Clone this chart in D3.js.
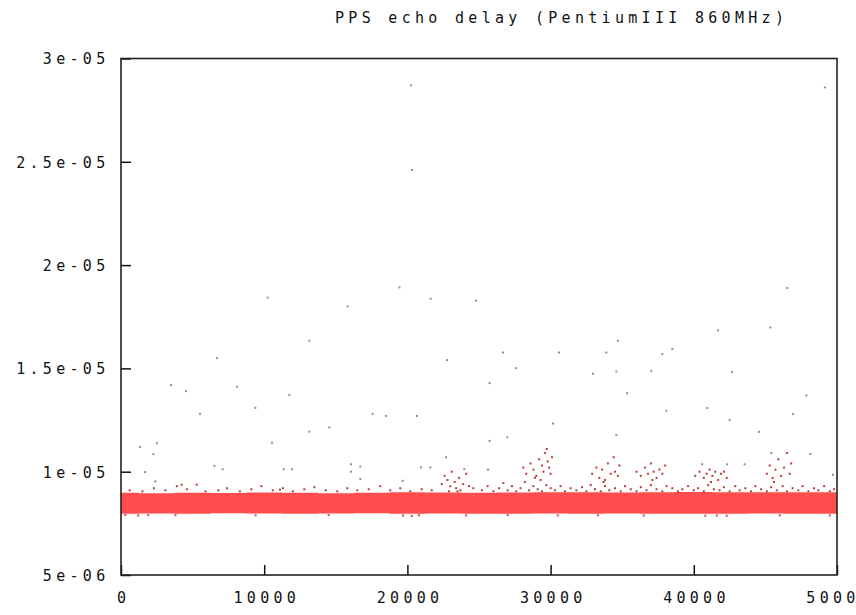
<!DOCTYPE html>
<html>
<head>
<meta charset="utf-8">
<script src="https://cdn.jsdelivr.net/npm/d3@7"></script>
<style>
  html, body { margin: 0; padding: 0; background: #fff; }
  svg { display: block; }
  text { font-family: "DejaVu Sans Mono", "Liberation Mono", monospace; font-size: 15px; letter-spacing: 4.3px; fill: #111; }
</style>
</head>
<body>
<svg id="chart" width="856" height="615"></svg>
<script>
// Echo delay, one sample per packet index; delays in microseconds.
const titleText = "PPS echo delay (PentiumIII 860MHz)";

const xTicks = [0, 10000, 20000, 30000, 40000, 50000];
const xTickLabels = ["0", "10000", "20000", "30000", "40000", "50000"];
const yTicks = [5e-6, 1e-5, 1.5e-5, 2e-5, 2.5e-5, 3e-5];
const yTickLabels = ["5e-06", "1e-05", "1.5e-05", "2e-05", "2.5e-05", "3e-05"];

// Envelope of the dense bulk of samples (µs), one entry per 2500 packets.
const bandX    = [0, 2500, 5000, 7500, 10000, 12500, 15000, 17500, 20000, 22500, 25000,
                  27500, 30000, 32500, 35000, 37500, 40000, 42500, 45000, 47500, 50000];
const bandLow  = [7.97, 7.98, 7.97, 7.99, 7.98, 7.97, 7.98, 7.99, 7.96, 7.98, 7.97,
                  7.97, 7.98, 7.97, 7.98, 7.96, 7.97, 7.97, 7.98, 7.97, 7.97];
const bandHigh = [8.98, 8.96, 8.98, 8.97, 8.99, 8.98, 8.96, 8.98, 9.00, 8.99, 8.98,
                  8.99, 9.01, 9.00, 8.99, 9.00, 9.02, 9.01, 9.00, 9.01, 9.01];

// Samples just outside the bulk and the small bursts around 10 µs: [packet, µs]
const nearSamples = [
  [600,9.10],[1500,9.05],[2300,9.20],[3100,9.10],[3900,9.30],[4240,9.37],[4600,9.15],[5290,9.37],
  [5900,9.05],[6800,9.10],[7400,9.20],[8300,9.05],[9100,9.15],[9800,9.30],[10600,9.10],[11100,9.13],
  [11300,9.20],[12000,9.05],[12800,9.15],[13500,9.25],[14300,9.10],[15100,9.05],[15800,9.20],
  [16500,9.10],[17300,9.15],[18100,9.30],[18800,9.10],[19500,9.20],[20200,9.05],[21000,9.15],[21700,9.10],
  [22400,9.40],[22600,9.80],[22800,9.60],[22900,9.05],[23000,9.30],[23100,10.0],[23300,9.50],[23400,9.20],
  [23500,9.05],[23600,9.70],[23700,9.10],[23900,9.40],[24100,9.90],[24300,9.30],[24600,9.20],
  [25200,9.10],[25600,9.30],[26000,9.05],[26400,9.20],[26700,9.45],[27000,9.10],[27300,9.30],[27600,9.05],
  [27900,9.20],[28200,9.50],[28500,9.10],[28800,9.30],[29100,9.15],[29400,9.05],[29700,9.35],[30000,9.20],
  [30300,9.10],[30700,9.30],[31000,9.05],[31400,9.20],[31800,9.10],[32200,9.25],[32500,9.05],[32800,9.35],
  [33100,9.15],[33500,9.05],[33800,9.30],[34100,9.10],[34500,9.20],[34900,9.05],[35200,9.30],[35600,9.15],
  [36000,9.05],[36300,9.25],[36700,9.10],[37000,9.35],[37400,9.15],[37800,9.05],[38100,9.30],[38500,9.20],
  [38900,9.05],[39200,9.15],[39600,9.30],[40000,9.10],[40300,9.20],[40700,9.05],[41000,9.35],[41400,9.15],
  [41800,9.10],[42100,9.25],[42500,9.05],[42900,9.30],[43200,9.10],[43600,9.20],[44000,9.05],[44300,9.30],
  [44700,9.15],[45100,9.05],[45400,9.25],[45800,9.10],[46200,9.30],[46500,9.05],[46900,9.20],[47300,9.10],
  [47600,9.30],[48000,9.05],[48400,9.20],[48700,9.10],[49100,9.30],[49500,9.05],[49800,9.15],
  // bursts
  [28100,10.2],[28300,9.90],[28600,10.4],[28800,10.1],[29000,9.80],[29200,10.6],[29400,10.3],[29500,10.0],
  [29600,10.9],[29730,11.1],[29800,10.5],[29900,10.2],[30000,9.90],[30100,10.7],[28900,9.70],[29300,9.60],
  [32900,9.90],[33200,10.2],[33400,9.70],[33600,10.1],[33800,9.60],[34000,10.4],[34200,9.90],[34400,10.7],
  [34500,10.0],[34700,9.80],[34800,10.3],[33700,9.50],
  [36000,10.0],[36300,9.80],[36600,10.2],[36800,9.90],[37000,10.4],[37200,10.0],[37400,9.70],[37600,10.1],
  [37800,9.90],[38000,10.3],[37100,9.60],
  [40100,9.80],[40400,10.0],[40700,9.70],[40900,9.90],[41100,10.1],[41300,9.80],[41500,10.0],[41700,9.60],
  [41900,9.90],[42100,10.0],[42300,9.70],[41200,9.50],
  [45100,9.90],[45300,10.3],[45500,9.70],[45700,10.1],[45900,10.6],[46100,9.80],[46300,10.2],[46500,10.9],
  [46700,9.90],[46800,10.4],[45600,9.50]
];

// Samples just below the bulk: [packet, µs]
const lowSamples = [
  [300,7.90],[1200,7.88],[1900,7.90],[3800,7.90],[9400,7.89],[14500,7.90],[19700,7.88],[20300,7.86],
  [20800,7.89],[24100,7.88],[27000,7.90],[30500,7.88],[33300,7.89],[36500,7.88],[40800,7.87],[41600,7.88],
  [42300,7.87],[46000,7.89],[49500,7.88]
];

// Isolated long delays: [packet, µs]
const farSamples = [
  [20250,28.7],[20320,24.6],[49150,28.6],[19450,18.92],[46530,18.89],
  [10240,18.43],[15830,18.0],[21620,18.37],[24790,18.28],[13150,16.34],[6700,15.5],[22770,15.4],
  [3490,14.19],[4540,13.9],[8100,14.11],[11750,13.72],[9380,13.09],[5520,12.8],[17570,12.8],[18500,12.7],
  [20670,12.7],[13150,11.94],[14550,12.14],[1330,11.2],[2510,11.38],[2260,10.85],[10540,11.4],[22700,10.7],
  [6520,10.28],[7100,10.12],[11360,10.12],[11940,10.12],[16060,10.36],[16710,10.25],[16060,10.0],
  [20950,10.21],[21600,10.21],[1680,9.98],[2400,9.53],[16710,9.65],[19670,9.56],[23970,10.12],
  [41690,16.84],[45340,16.98],[34700,16.34],[26680,15.77],[30590,15.77],[33890,15.77],[37800,15.69],
  [38500,15.94],[27600,15.01],[25740,14.29],[32960,14.74],[34590,14.85],[37030,14.88],[42670,14.82],
  [35350,13.8],[47860,13.69],[40940,13.08],[38080,12.95],[46930,12.79],[42500,12.5],[30170,12.33],
  [44550,11.93],[34590,11.77],[26980,11.67],[25740,11.49],[48140,10.86],[45410,10.9],[40590,10.36],
  [42330,10.36],[43550,10.36],[25630,10.1],[49720,9.85]
];

const US = 1e-6;
const svg = d3.select("#chart");
const plotLeft = 121, plotRight = 837, plotTop = 58.5, plotBottom = 575;

const x = d3.scaleLinear().domain([0, 50000]).range([plotLeft, plotRight]);
const y = d3.scaleLinear().domain([5e-6, 3e-5]).range([plotBottom, plotTop]);

const plot = svg.append("g");
plot.append("clipPath").attr("id", "clip")
  .append("rect").attr("x", plotLeft).attr("y", plotTop)
  .attr("width", plotRight - plotLeft).attr("height", plotBottom - plotTop);
const data = plot.append("g").attr("clip-path", "url(#clip)");

// Dense bulk of samples
const band = bandX.map((v, i) => ({ x: v, lo: bandLow[i] * US, hi: bandHigh[i] * US }));
data.append("path")
  .datum(band)
  .attr("fill", "#ff4d4d")
  .attr("d", d3.area().curve(d3.curveStep).x(d => x(d.x)).y0(d => y(d.lo)).y1(d => y(d.hi)));

function dots(list, color) {
  data.append("g").selectAll("rect")
    .data(list)
    .join("rect")
    .attr("x", d => x(d[0]) - 1)
    .attr("y", d => y(d[1] * US) - 1)
    .attr("width", 2).attr("height", 2)
    .attr("fill", color);
}
dots(lowSamples, "#e24848");
dots(nearSamples, "#bb3c3c");
dots(farSamples, "#9c8a8a");

// Axes with inward ticks
const yAxis = d3.axisLeft(y)
  .tickValues(yTicks)
  .tickFormat((d, i) => yTickLabels[i])
  .tickSizeInner(-10).tickSizeOuter(0).tickPadding(11.5);
const gy = svg.append("g").attr("transform", `translate(${plotLeft},0)`).call(yAxis);
gy.select(".domain").remove();
gy.selectAll("line").attr("stroke", "#111").attr("stroke-width", 1.5);
gy.selectAll("text").attr("font-family", null).attr("font-size", null)
  .attr("fill", "#111").attr("dy", "0.36em");

const xAxis = d3.axisBottom(x)
  .tickValues(xTicks)
  .tickFormat((d, i) => xTickLabels[i])
  .tickSizeInner(-10).tickSizeOuter(0).tickPadding(17.5);
const gx = svg.append("g").attr("transform", `translate(0,${plotBottom})`).call(xAxis);
gx.select(".domain").remove();
gx.selectAll("line").attr("stroke", "#111").attr("stroke-width", 1.5);
gx.selectAll("text").attr("font-family", null).attr("font-size", null)
  .attr("fill", "#111").attr("dx", "2.15px");

// Frame
svg.append("rect")
  .attr("x", plotLeft).attr("y", plotTop)
  .attr("width", plotRight - plotLeft).attr("height", plotBottom - plotTop)
  .attr("fill", "none").attr("stroke", "#222").attr("stroke-width", 1.6);

// Title
svg.append("text")
  .attr("x", 335).attr("y", 23)
  .text(titleText);
</script>
</body>
</html>
